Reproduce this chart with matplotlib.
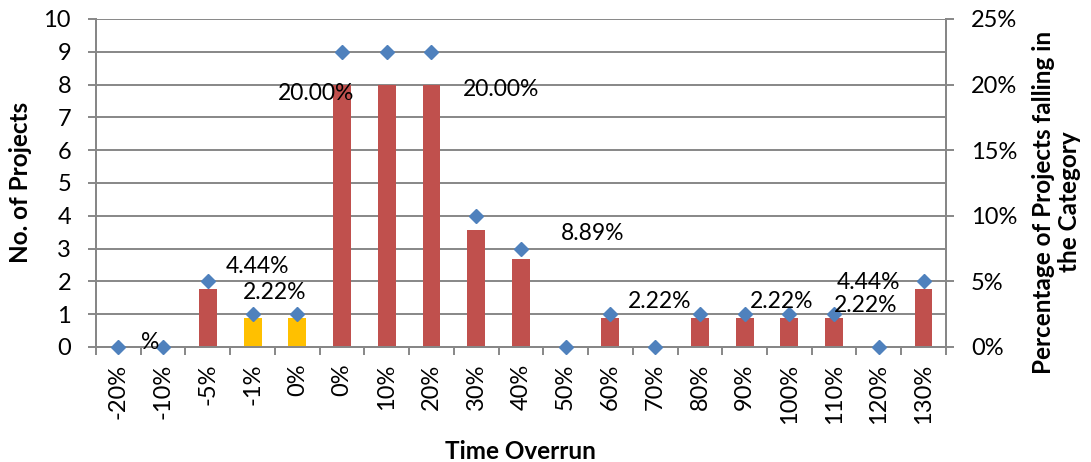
import matplotlib
matplotlib.use('Agg')
import matplotlib.pyplot as plt
import numpy as np
from matplotlib.ticker import FixedLocator, MultipleLocator, FuncFormatter

plt.rcParams['font.family'] = ['Lato', 'DejaVu Sans']

# overrun categories and number of projects in each
categories = ['-20%', '-10%', '-5%', '-1%', '0%', '0%', '10%', '20%', '30%', '40%',
              '50%', '60%', '70%', '80%', '90%', '100%', '110%', '120%', '130%']
projects = [0, 0, 2, 1, 1, 9, 9, 9, 4, 3, 0, 1, 0, 1, 1, 1, 1, 0, 2]
early = [3, 4]   # categories finished early / on time (yellow)

# data labels: which category each label reports
label_cats = [2, 3, 5, 7, 8, 11, 14, 18, 16]

counts = np.array(projects)
share = counts / counts.sum() * 100
x = np.arange(len(categories))

RED = '#C0504D'
YELLOW = '#FFC000'
BLUE = '#4F81BD'
GRID = '#878787'

fig = plt.figure(figsize=(10.91, 4.62), dpi=100)
ax = fig.add_axes([0.088, 0.249, 0.779, 0.710])
ax2 = ax.twinx()

# bars on the percentage axis, sitting behind the count markers
colors = [YELLOW if i in early else RED for i in x]
ax2.bar(x, share, width=0.4, color=colors, zorder=3)
ax2.set_ylim(0, 25)
ax2.yaxis.set_major_locator(MultipleLocator(5))
ax2.yaxis.set_minor_locator(MultipleLocator(2.5))
ax2.yaxis.set_major_formatter(FuncFormatter(lambda v, p: f'{v:.0f}%'))
ax2.grid(True, which='both', axis='y', color=GRID, lw=1.4, zorder=0)
ax2.tick_params(axis='y', which='major', length=6, width=1.4, color=GRID,
                labelsize=17, pad=12, direction='out')
ax2.tick_params(axis='y', which='minor', length=0)
ax2.set_ylabel('Percentage of Projects falling in\nthe Category', fontsize=17.5,
               fontweight='bold', linespacing=1.15)
ax2.yaxis.set_label_coords(1.101, 0.442)

ax.set_zorder(ax2.get_zorder() + 1)
ax.patch.set_visible(False)
ax.plot(x, counts, ls='none', marker='D', ms=6.8, color=BLUE, zorder=5, clip_on=False)
ax.set_ylim(0, 10)
ax.set_xlim(-0.5, len(categories) - 0.5)
ax.set_yticks(range(0, 11))
ax.tick_params(axis='y', length=6, width=1.4, color=GRID, labelsize=17, pad=12)
ax.set_ylabel('No. of Projects', fontsize=17.5, fontweight='bold')
ax.yaxis.set_label_coords(-0.075, 0.503)

ax.set_xticks(x)
ax.set_xticklabels(categories, rotation=90, fontsize=17)
ax.xaxis.set_minor_locator(FixedLocator(np.arange(-0.5, len(categories), 1.0)))
ax.tick_params(axis='x', which='major', length=0, pad=12)
ax.tick_params(axis='x', which='minor', length=6, width=1.4, color=GRID)
ax.set_xlabel('Time Overrun', fontsize=17.5, fontweight='bold')
ax.xaxis.set_label_coords(0.499, -0.284)

for a in (ax, ax2):
    a.spines['top'].set_visible(False)
    for s in ('left', 'right', 'bottom'):
        a.spines[s].set_color(GRID)
        a.spines[s].set_linewidth(1.4)

# percentage data labels
label_xy = [(3.12, 2.44), (3.5, 1.65), (4.42, 7.74), (8.56, 7.86), (10.6, 3.47),
            (12.1, 1.38), (14.82, 1.38), (16.76, 1.96), (16.71, 1.25)]
for c, (lx, ly) in zip(label_cats, label_xy):
    ax.text(lx, ly, f'{share[c]:.2f}%', fontsize=16.5, ha='center', va='center', zorder=6)
ax.text(0.71, 0.15, '%', fontsize=16.5, ha='center', va='center', zorder=6)

fig.savefig('out.png', dpi=100)
